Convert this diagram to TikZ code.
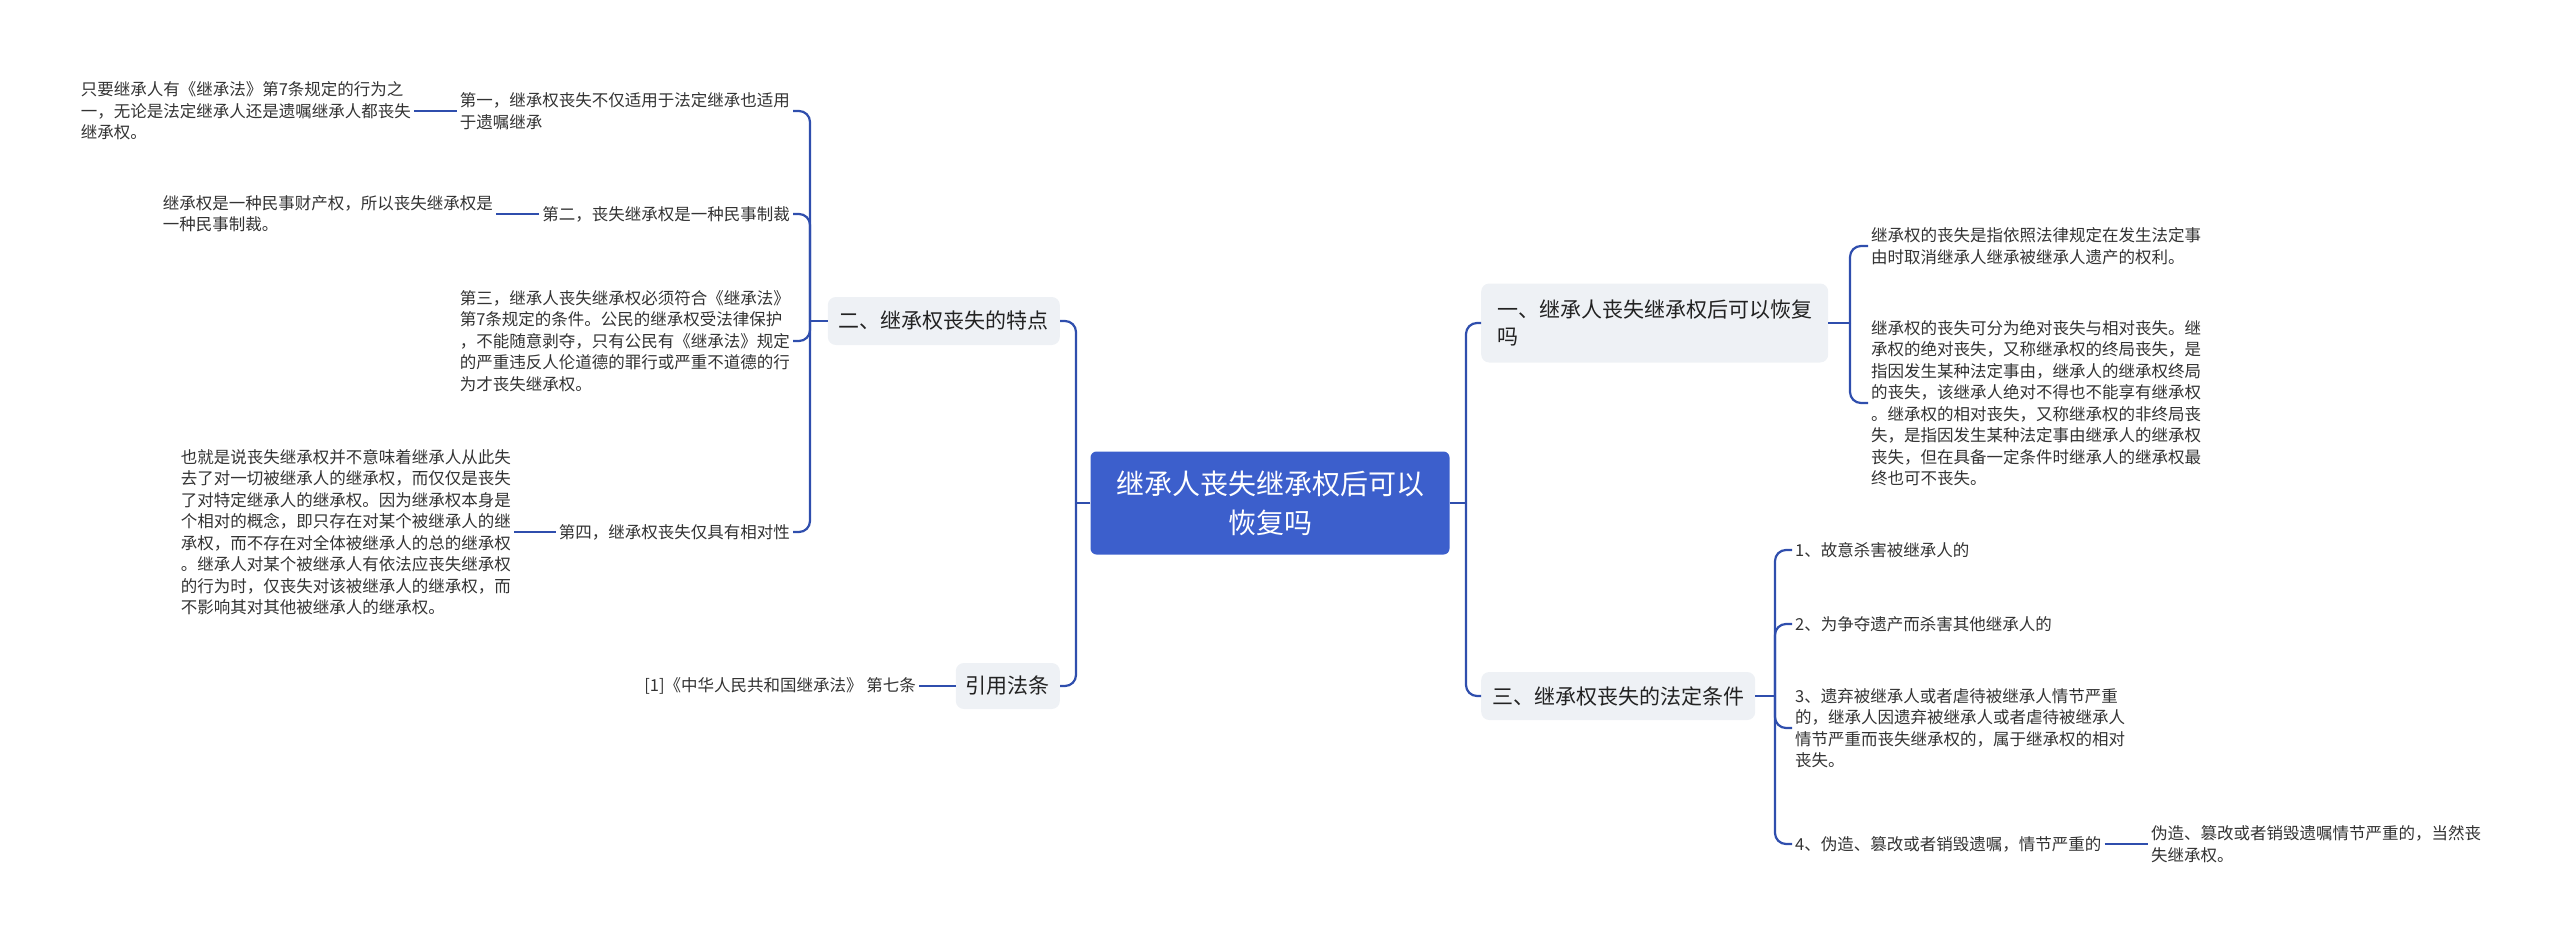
\documentclass[tikz,border=0pt]{standalone}
\usepackage{fontspec}
\setmainfont{Noto Sans CJK SC}
\definecolor{rootblue}{HTML}{3C5FCC}
\definecolor{branchgray}{HTML}{EEF1F5}
\definecolor{linkblue}{HTML}{2F4EAD}
\definecolor{ink}{HTML}{333333}
\definecolor{inktwo}{HTML}{222222}

\begin{document}
\begin{tikzpicture}[
      x=1pt, y=-1pt,
      rootbox/.style={fill=rootblue, rounded corners=6pt, text=white,
                      font=\fontsize{28}{39}\selectfont, align=center,
                      minimum width=359pt, minimum height=103pt, inner sep=0pt},
      branchbox/.style={fill=branchgray, rounded corners=8pt, text=inktwo,
                        font=\fontsize{21}{27}\selectfont, align=left,
                        inner xsep=11pt, inner ysep=4pt, minimum height=48pt},
      note/.style={text=ink, font=\fontsize{16.5}{21.5}\selectfont,
                   align=left, inner sep=3pt},
      link/.style={draw=linkblue, line width=2.2pt, rounded corners=11pt},
      tie/.style={draw=linkblue, line width=2.2pt},
    ]
      \useasboundingbox (0,0) rectangle (2560,945);

      \node[rootbox] (root) at (1270,503) {继承人丧失继承权后可以\\恢复吗};

      \node[branchbox, anchor=west, inner xsep=16pt, minimum height=79pt] (recover) at (1481,323)
        {一、继承人丧失继承权后可以恢复\\吗};
      \node[branchbox, anchor=west] (legal) at (1481,696) {三、继承权丧失的法定条件};
      \node[branchbox, anchor=east] (traits) at (1060,321) {二、继承权丧失的特点};
      \node[branchbox, anchor=east, inner xsep=10pt, minimum height=46pt] (cite) at (1060,686) {引用法条};

      \coordinate (lspine) at (1076,503);
      \coordinate (rspine) at (1466,503);
      \coordinate (tspine) at (810,321);
      \coordinate (rcspine) at (1850,323);
      \coordinate (lgspine) at (1775,696);

      \node[note, anchor=east] (first) at (793,111) {
        第一，继承权丧失不仅适用于法定继承也适用\\
        于遗嘱继承};
      \node[note, anchor=east] (second) at (793,214) {第二，丧失继承权是一种民事制裁};
      \node[note, anchor=east] (third) at (793,341) {
        第三，继承人丧失继承权必须符合《继承法》\\
        第7条规定的条件。公民的继承权受法律保护\\
        ，不能随意剥夺，只有公民有《继承法》规定\\
        的严重违反人伦道德的罪行或严重不道德的行\\
        为才丧失继承权。};
      \node[note, anchor=east] (fourth) at (793,532) {第四，继承权丧失仅具有相对性};

      \node[note, anchor=east] (firstleaf) at (414,111) {
        只要继承人有《继承法》第7条规定的行为之\\
        一，无论是法定继承人还是遗嘱继承人都丧失\\
        继承权。};
      \node[note, anchor=east] (secondleaf) at (496,214) {
        继承权是一种民事财产权，所以丧失继承权是\\
        一种民事制裁。};
      \node[note, anchor=east] (fourthleaf) at (514,532) {
        也就是说丧失继承权并不意味着继承人从此失\\
        去了对一切被继承人的继承权，而仅仅是丧失\\
        了对特定继承人的继承权。因为继承权本身是\\
        个相对的概念，即只存在对某个被继承人的继\\
        承权，而不存在对全体被继承人的总的继承权\\
        。继承人对某个被继承人有依法应丧失继承权\\
        的行为时，仅丧失对该被继承人的继承权，而\\
        不影响其对其他被继承人的继承权。};
      \node[note, anchor=east] (citeleaf) at (919,686) {[1]《中华人民共和国继承法》 第七条};

      \node[note, anchor=west] (define) at (1868,246) {
        继承权的丧失是指依照法律规定在发生法定事\\
        由时取消继承人继承被继承人遗产的权利。};
      \node[note, anchor=west] (kinds) at (1868,403) {
        继承权的丧失可分为绝对丧失与相对丧失。继\\
        承权的绝对丧失，又称继承权的终局丧失，是\\
        指因发生某种法定事由，继承人的继承权终局\\
        的丧失，该继承人绝对不得也不能享有继承权\\
        。继承权的相对丧失，又称继承权的非终局丧\\
        失，是指因发生某种法定事由继承人的继承权\\
        丧失，但在具备一定条件时继承人的继承权最\\
        终也可不丧失。};

      \node[note, anchor=west] (kill) at (1792,550) {1、故意杀害被继承人的};
      \node[note, anchor=west] (fight) at (1792,624) {2、为争夺遗产而杀害其他继承人的};
      \node[note, anchor=west] (abandon) at (1792,728) {
        3、遗弃被继承人或者虐待被继承人情节严重\\
        的，继承人因遗弃被继承人或者虐待被继承人\\
        情节严重而丧失继承权的，属于继承权的相对\\
        丧失。};
      \node[note, anchor=west] (forge) at (1792,844) {4、伪造、篡改或者销毁遗嘱，情节严重的};
      \node[note, anchor=west] (forgeleaf) at (2148,844) {
        伪造、篡改或者销毁遗嘱情节严重的，当然丧\\
        失继承权。};

      \draw[tie] (root.west) -- (lspine);
      \draw[link] (lspine) |- (traits.east);
      \draw[link] (lspine) |- (cite.east);
      \draw[tie] (root.east) -- (rspine);
      \draw[link] (rspine) |- (recover.west);
      \draw[link] (rspine) |- (legal.west);

      \draw[tie] (traits.west) -- (tspine);
      \foreach \n in {first,second,third,fourth}
        \draw[link] (tspine) |- (\n.east);
      \draw[tie] (first.west) -- (firstleaf.east);
      \draw[tie] (second.west) -- (secondleaf.east);
      \draw[tie] (fourth.west) -- (fourthleaf.east);
      \draw[tie] (cite.west) -- (citeleaf.east);

      \draw[tie] (recover.east) -- (rcspine);
      \draw[link] (rcspine) |- (define.west);
      \draw[link] (rcspine) |- (kinds.west);

      \draw[tie] (legal.east) -- (lgspine);
      \foreach \n in {kill,fight,abandon,forge}
        \draw[link] (lgspine) |- (\n.west);
      \draw[tie] (forge.east) -- (forgeleaf.west);

    \end{tikzpicture}
\end{document}
